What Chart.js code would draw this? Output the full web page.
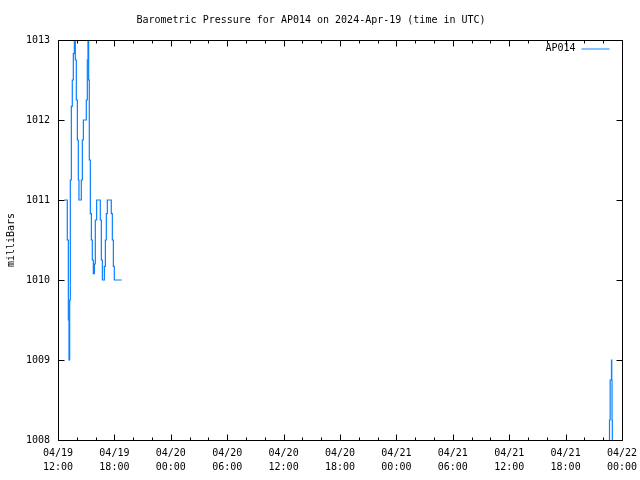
<!DOCTYPE html>
<html>
<head>
<meta charset="utf-8">
<script src="https://cdn.jsdelivr.net/npm/chart.js@4"></script>
<style>
    body { margin: 0; background: #fff; }
    #wrap { width: 640px; height: 480px; }
</style>
</head>
<body>
<div id="wrap"><canvas id="chartBaro" width="640" height="480"></canvas></div>
<script>
// hours since 2024-04-19 12:00 UTC, pressure in mb (null = gap in the record)
const hours = [
    0.67, 0.99, 1.10, 1.17, 1.24, 1.31, 1.42, 1.52, 1.63, 1.74,
    1.84, 1.95, 2.06, 2.16, 2.23, 2.48, 2.59, 2.70, 3.01, 3.12,
    3.19, 3.26, 3.33, 3.44, 3.55, 3.65, 3.76, 3.87, 3.97, 4.11,
    4.50, 4.61, 4.72, 4.93, 5.04, 5.14, 5.25, 5.67, 5.78, 5.89,
    5.99, 6.77,
    30.0,
    58.65, 58.67, 58.74, 58.88, 58.91, 58.94, 58.97
];
const pressure = [
    1011, 1010.5, 1009.5, 1009, 1009.75, 1011.25, 1012.17, 1012.5, 1012.83, 1013,
    1012.75, 1012.25, 1011.75, 1011.25, 1011, 1011.25, 1011.75, 1012, 1012.25, 1012.75,
    1013, 1012.5, 1011.5, 1010.83, 1010.5, 1010.25, 1010.08, 1010.2, 1010.75, 1011,
    1010.75, 1010.25, 1010, 1010.17, 1010.5, 1010.83, 1011, 1010.83, 1010.5, 1010.17,
    1010, 1010,
    null,
    1007.9, 1008.25, 1008.75, 1009, 1008.75, 1008.25, 1007.9
];
const xTickLabels = [
    ['04/19', '12:00'], ['04/19', '18:00'], ['04/20', '00:00'], ['04/20', '06:00'],
    ['04/20', '12:00'], ['04/20', '18:00'], ['04/21', '00:00'], ['04/21', '06:00'],
    ['04/21', '12:00'], ['04/21', '18:00'], ['04/22', '00:00']
];
const stationName = 'AP014';
const lineColor = '#0a80ff';

Chart.defaults.font.family = "'DejaVu Sans Mono', monospace";
Chart.defaults.font.size = 10;
Chart.defaults.color = '#000';

// gnuplot style frame: border on all sides with inward ticks, mirrored
const framePlugin = {
    id: 'frame',
    afterDraw(chart) {
        const ctx = chart.ctx;
        const a = chart.chartArea;
        const l = Math.round(a.left) + 0.5, r = Math.round(a.right) + 0.5;
        const t = Math.round(a.top) + 0.5, b = Math.round(a.bottom) + 0.5;
        ctx.save();
        ctx.strokeStyle = '#000';
        ctx.lineWidth = 1;
        ctx.beginPath();
        chart.scales.x.ticks.forEach(tk => {
            const px = Math.round(chart.scales.x.getPixelForValue(tk.value)) + 0.5;
            const len = tk.value % 6 === 0 ? 6 : 3;
            ctx.moveTo(px, b); ctx.lineTo(px, b - len);
            ctx.moveTo(px, t); ctx.lineTo(px, t + len);
        });
        chart.scales.y.ticks.forEach(tk => {
            const py = Math.round(chart.scales.y.getPixelForValue(tk.value)) + 0.5;
            ctx.moveTo(l, py); ctx.lineTo(l + 6, py);
            ctx.moveTo(r, py); ctx.lineTo(r - 6, py);
        });
        ctx.rect(l, t, r - l, b - t);
        ctx.stroke();

        // key in the top right corner
        const ky = t + 8;
        ctx.fillStyle = '#000';
        ctx.textAlign = 'right';
        ctx.textBaseline = 'middle';
        ctx.font = "10px 'DejaVu Sans Mono'";
        ctx.fillText(chart.data.datasets[0].label, r - 47, ky);
        ctx.strokeStyle = lineColor;
        ctx.beginPath();
        ctx.moveTo(r - 41, ky + 0.5);
        ctx.lineTo(r - 13, ky + 0.5);
        ctx.stroke();
        ctx.restore();
    }
};

const ctx = document.getElementById('chartBaro').getContext('2d');
new Chart(ctx, {
    type: 'line',
    data: {
        datasets: [{
            label: stationName,
            data: hours.map((h, i) => ({ x: h, y: pressure[i] })),
            borderColor: lineColor,
            borderWidth: 1.2,
            stepped: true,
            pointRadius: 0,
            spanGaps: false,
            fill: false
        }]
    },
    options: {
        responsive: false,
        animation: false,
        devicePixelRatio: 1,
        layout: { padding: { left: 0, right: 18, top: 0, bottom: 0 } },
        plugins: {
            legend: { display: false },
            tooltip: { enabled: false },
            title: {
                display: true,
                text: 'Barometric Pressure for ' + stationName + ' on 2024-Apr-19 (time in UTC)',
                font: { size: 10, weight: 'normal' },
                color: '#000',
                padding: { top: 14, bottom: 14 }
            }
        },
        scales: {
            x: {
                type: 'linear',
                min: 0,
                max: 60,
                grid: { display: false, drawTicks: false },
                border: { display: false },
                ticks: {
                    stepSize: 2,
                    autoSkip: false,
                    maxRotation: 0,
                    padding: 6,
                    font: { size: 10, lineHeight: 1.4 },
                    callback: v => (v % 6 === 0 ? xTickLabels[v / 6] : '')
                },
                afterFit: s => { s.height = 40; s.paddingLeft = 0; s.paddingRight = 0; }
            },
            y: {
                min: 1008,
                max: 1013,
                grid: { display: false, drawTicks: false },
                border: { display: false },
                ticks: { stepSize: 1, padding: 8, callback: v => String(v) },
                title: {
                    display: true,
                    text: 'milliBars',
                    font: { size: 10 },
                    padding: { top: 5, bottom: 0 }
                },
                afterFit: s => { s.width = 58; }
            }
        }
    },
    plugins: [framePlugin]
});
</script>
</body>
</html>
